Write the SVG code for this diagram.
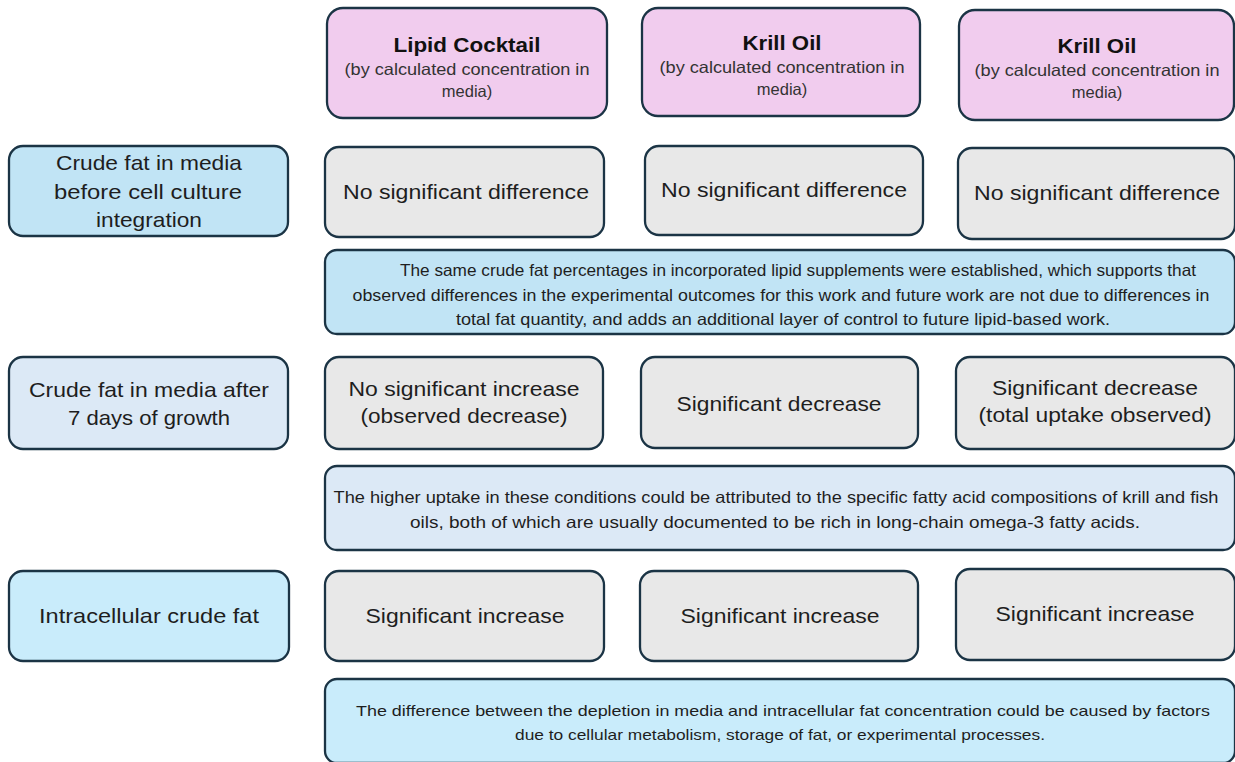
<svg xmlns="http://www.w3.org/2000/svg" width="1235" height="762" viewBox="0 0 1235 762">
<style>
rect{stroke:#1b3445;stroke-width:2.3}
.h{fill:#f1ccee}
.g{fill:#e8e8e8}
.b1{fill:#c1e4f5}
.b2{fill:#dce9f6}
.b3{fill:#c9ecfb}
text{font-family:"Liberation Sans",Arial,sans-serif;fill:#1e1e1e;text-anchor:middle}
.t{font-size:21px}
.ht{font-size:21px;font-weight:bold;fill:#111}
.hs{font-size:16.5px;fill:#333}
.n{font-size:16.5px}
.n3{font-size:15px}
</style>
<g id="header-lipid-cocktail"><rect class="h" x="327" y="8" width="280" height="110" rx="16"/><text class="ht" x="467" y="52" textLength="147" lengthAdjust="spacingAndGlyphs">Lipid Cocktail</text><text class="hs" x="467" y="75" textLength="245" lengthAdjust="spacingAndGlyphs">(by calculated concentration in</text><text class="hs" x="467" y="97">media)</text></g>
<g id="header-krill-oil-1"><rect class="h" x="642" y="8" width="278" height="108" rx="16"/><text class="ht" x="782" y="50" textLength="79" lengthAdjust="spacingAndGlyphs">Krill Oil</text><text class="hs" x="782" y="73" textLength="245" lengthAdjust="spacingAndGlyphs">(by calculated concentration in</text><text class="hs" x="782" y="95">media)</text></g>
<g id="header-krill-oil-2"><rect class="h" x="959" y="10" width="275" height="110" rx="16"/><text class="ht" x="1097" y="53" textLength="79" lengthAdjust="spacingAndGlyphs">Krill Oil</text><text class="hs" x="1097" y="76" textLength="245" lengthAdjust="spacingAndGlyphs">(by calculated concentration in</text><text class="hs" x="1097" y="98">media)</text></g>

<g id="label-before"><rect class="b1" x="9" y="146" width="279" height="90" rx="14"/><text class="t" x="149" y="170" textLength="186" lengthAdjust="spacingAndGlyphs">Crude fat in media</text><text class="t" x="148" y="199" textLength="188" lengthAdjust="spacingAndGlyphs">before cell culture</text><text class="t" x="149" y="227" textLength="106" lengthAdjust="spacingAndGlyphs">integration</text></g>
<g id="r1c1"><rect class="g" x="325" y="147" width="279" height="90" rx="14"/><text class="t" x="466" y="199" textLength="246" lengthAdjust="spacingAndGlyphs">No significant difference</text></g>
<g id="r1c2"><rect class="g" x="645" y="146" width="278" height="89" rx="14"/><text class="t" x="784" y="197" textLength="246" lengthAdjust="spacingAndGlyphs">No significant difference</text></g>
<g id="r1c3"><rect class="g" x="958" y="148" width="277" height="91" rx="14"/><text class="t" x="1097" y="200" textLength="246" lengthAdjust="spacingAndGlyphs">No significant difference</text></g>
<g id="note1"><rect class="b1" x="325" y="250" width="910" height="84" rx="12"/>
<text class="n" x="798" y="276" textLength="796" lengthAdjust="spacingAndGlyphs">The same crude fat percentages in incorporated lipid supplements were established, which supports that</text>
<text class="n" x="781" y="301" textLength="857" lengthAdjust="spacingAndGlyphs">observed differences in the experimental outcomes for this work and future work are not due to differences in</text>
<text class="n" x="783" y="325" textLength="654" lengthAdjust="spacingAndGlyphs">total fat quantity, and adds an additional layer of control to future lipid-based work.</text></g>

<g id="label-after"><rect class="b2" x="9" y="357" width="279" height="92" rx="14"/><text class="t" x="149" y="397" textLength="240" lengthAdjust="spacingAndGlyphs">Crude fat in media after</text><text class="t" x="149" y="425" textLength="162" lengthAdjust="spacingAndGlyphs">7 days of growth</text></g>
<g id="r2c1"><rect class="g" x="325" y="357" width="278" height="92" rx="14"/><text class="t" x="464" y="396" textLength="231" lengthAdjust="spacingAndGlyphs">No significant increase</text><text class="t" x="464" y="423" textLength="207" lengthAdjust="spacingAndGlyphs">(observed decrease)</text></g>
<g id="r2c2"><rect class="g" x="641" y="357" width="277" height="91" rx="14"/><text class="t" x="779" y="411" textLength="205" lengthAdjust="spacingAndGlyphs">Significant decrease</text></g>
<g id="r2c3"><rect class="g" x="956" y="357" width="279" height="92" rx="14"/><text class="t" x="1095" y="395" textLength="206" lengthAdjust="spacingAndGlyphs">Significant decrease</text><text class="t" x="1095" y="422" textLength="233" lengthAdjust="spacingAndGlyphs">(total uptake observed)</text></g>
<g id="note2"><rect class="b2" x="325" y="466" width="910" height="84" rx="12"/>
<text class="n" x="776" y="503" textLength="885" lengthAdjust="spacingAndGlyphs">The higher uptake in these conditions could be attributed to the specific fatty acid compositions of krill and fish</text>
<text class="n" x="775" y="528" textLength="730" lengthAdjust="spacingAndGlyphs">oils, both of which are usually documented to be rich in long-chain omega-3 fatty acids.</text></g>

<g id="label-intracellular"><rect class="b3" x="9" y="571" width="280" height="90" rx="14"/><text class="t" x="149" y="623" textLength="220" lengthAdjust="spacingAndGlyphs">Intracellular crude fat</text></g>
<g id="r3c1"><rect class="g" x="325" y="571" width="279" height="90" rx="14"/><text class="t" x="465" y="623" textLength="199" lengthAdjust="spacingAndGlyphs">Significant increase</text></g>
<g id="r3c2"><rect class="g" x="640" y="571" width="278" height="90" rx="14"/><text class="t" x="780" y="623" textLength="199" lengthAdjust="spacingAndGlyphs">Significant increase</text></g>
<g id="r3c3"><rect class="g" x="956" y="569" width="279" height="91" rx="14"/><text class="t" x="1095" y="621" textLength="199" lengthAdjust="spacingAndGlyphs">Significant increase</text></g>
<g id="note3"><rect class="b3" x="325" y="679" width="910" height="84" rx="12"/>
<text class="n3" x="783" y="716" textLength="854" lengthAdjust="spacingAndGlyphs">The difference between the depletion in media and intracellular fat concentration could be caused by factors</text>
<text class="n3" x="780" y="740" textLength="530" lengthAdjust="spacingAndGlyphs">due to cellular metabolism, storage of fat, or experimental processes.</text></g>
<g id="connectors"/>
</svg>
